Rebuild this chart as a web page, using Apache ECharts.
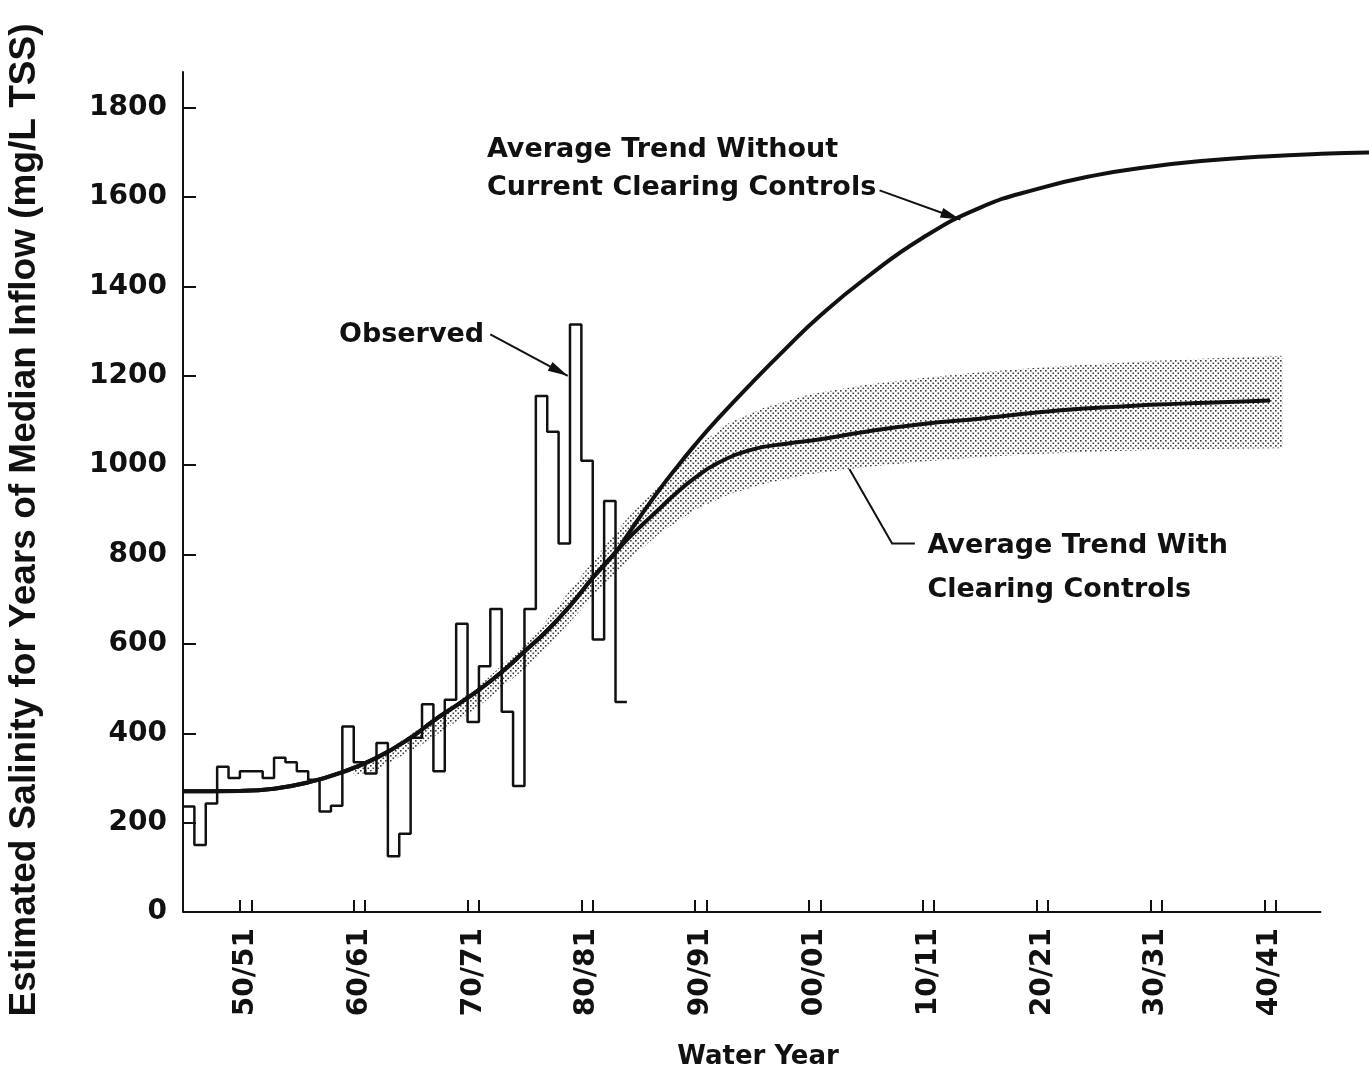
<!DOCTYPE html>
<html>
<head>
<meta charset="utf-8">
<script src="https://cdn.jsdelivr.net/npm/echarts@6/dist/echarts.min.js"></script>
<style>
  html, body { margin: 0; padding: 0; background: #ffffff; }
  #chart { width: 1369px; height: 1075px; }
</style>
</head>
<body>
<div id="chart"></div>
<script>
// Observed salinity for years of median inflow, one value per water year
const observedYears = [1945,1946,1947,1948,1949,1950,1951,1952,1953,1954,1955,1956,1957,1958,1959,
  1960,1961,1962,1963,1964,1965,1966,1967,1968,1969,1970,1971,1972,1973,1974,1975,1976,1977,1978,
  1979,1980,1981,1982,1983];
const observedValues = [236,150,243,325,300,315,315,300,345,335,315,296,225,238,415,
  335,310,378,125,175,390,465,315,475,645,425,550,678,448,282,678,1155,1075,825,
  1315,1010,610,920,470];
const observedEndYear = 1984;

// Shared part of both average trends
const trendYears = [1945,1950,1953,1956,1959,1962,1965,1967,1969,1971,1973,1975,1977,1979,1981,1983];
const trendValues = [270,271,276,290,313,345,390,428,462,497,537,583,630,685,748,805];

// Average trend without current clearing controls
const withoutYears = [1984,1985,1986,1987,1988,1990,1992,1995,1998,2001,2005,2010,2015,2020,2025,2030,2035,2040,2045,2049.2];
const withoutValues = [842,879,915,950,983,1046,1104,1185,1262,1335,1419,1509,1576,1618,1648,1668,1682,1691,1697,1700];

// Average trend with clearing controls
const withYears = [1984,1985,1986,1987,1988,1990,1992,1995,1998,2001,2005,2010,2015,2020,2025,2030,2035,2040.5];
const withValues = [833,858,882,906,930,972,1005,1035,1048,1058,1075,1092,1104,1118,1128,1135,1140,1145];

// Shaded range around the trend with clearing controls
const bandYears = [1960,1962,1966,1971,1976,1981,1984,1987,1990,1993,1996,2000,2005,2010,2015,2020,2025,2030,2035,2041.6];
const bandLow   = [305,318,375,460,565,705,785,850,900,935,958,980,996,1008,1018,1025,1030,1034,1036,1038];
const bandHigh  = [322,345,415,505,622,785,880,960,1040,1095,1128,1158,1180,1195,1208,1218,1226,1233,1239,1245];

// Axis ticks and labels
const yTicks = [0,200,400,600,800,1000,1200,1400,1600,1800];
const decadeStarts = [1950,1960,1970,1980,1990,2000,2010,2020,2030,2040];
const decadeLabels = ['50/51','60/61','70/71','80/81','90/91','00/01','10/11','20/21','30/31','40/41'];
const xAxisStart = 1945, xAxisEnd = 2045, xPlotEnd = 2049.2;

const FONT = 'DejaVu Sans';
const INK = '#111111';

const xTickValues = [];
decadeStarts.forEach(function (y) { xTickValues.push(y, y + 1); });
const xLabelValues = decadeStarts.map(function (y) { return y + 0.5; });
const labelByValue = {};
xLabelValues.forEach(function (v, i) { labelByValue[v] = decadeLabels[i]; });

function pairs(xs, ys) { return xs.map(function (x, i) { return [x, ys[i]]; }); }

const observedData = pairs(observedYears, observedValues);
observedData.push([observedEndYear, observedValues[observedValues.length - 1]]);
const withoutData = pairs(trendYears, trendValues).concat(pairs(withoutYears, withoutValues));
const withData = pairs(trendYears, trendValues).concat(pairs(withYears, withValues));

// Stipple tile for the shaded range
function stipple() {
  const c = document.createElement('canvas');
  c.width = 5; c.height = 5;
  const g = c.getContext('2d');
  g.fillStyle = '#ffffff';
  g.fillRect(0, 0, 5, 5);
  g.fillStyle = '#3a3a3a';
  g.fillRect(0, 0, 1.6, 1.6);
  g.fillRect(2.5, 2.5, 1.6, 1.6);
  return c;
}
const stipplePattern = { image: stipple(), repeat: 'repeat' };

const chart = echarts.init(document.getElementById('chart'), null, { renderer: 'canvas' });

const option = {
  backgroundColor: '#ffffff',
  animation: false,
  grid: { left: 183, right: 0, top: 72, bottom: 160 },
  xAxis: {
    type: 'value', min: xAxisStart, max: xPlotEnd,
    axisLine: { show: false },
    axisTick: { show: true, inside: true, length: 12, customValues: xTickValues, lineStyle: { color: INK, width: 2 } },
    axisLabel: {
      customValues: xLabelValues, rotate: 90, margin: 16,
      formatter: function (v) { return labelByValue[v] || ''; },
      fontFamily: FONT, fontWeight: 'bold', fontSize: 28, color: INK
    },
    splitLine: { show: false },
    name: 'Water Year', nameLocation: 'middle', nameGap: 132,
    nameTextStyle: { fontFamily: FONT, fontWeight: 'bold', fontSize: 26, color: INK, verticalAlign: 'top', padding: [0, 0, 0, -36] }
  },
  yAxis: {
    type: 'value', min: 0, max: 1880,
    axisLine: { show: true, lineStyle: { color: INK, width: 2 } },
    axisTick: { show: true, inside: true, length: 13, customValues: yTicks, lineStyle: { color: INK, width: 2 } },
    axisLabel: {
      customValues: yTicks, margin: 16, formatter: function (v) { return String(v); },
      fontFamily: FONT, fontWeight: 'bold', fontSize: 28, color: INK
    },
    splitLine: { show: false }
  },
  series: [
    {
      name: 'Range', type: 'custom', coordinateSystem: 'cartesian2d', silent: true, z: 1,
      data: [[bandYears[0], bandLow[0]]],
      renderItem: function (params, api) {
        const pts = [];
        for (let i = 0; i < bandYears.length; i++) pts.push(api.coord([bandYears[i], bandHigh[i]]));
        for (let i = bandYears.length - 1; i >= 0; i--) pts.push(api.coord([bandYears[i], bandLow[i]]));
        return { type: 'polygon', shape: { points: pts }, style: { fill: stipplePattern, stroke: null } };
      }
    },
    {
      name: 'Baseline', type: 'line', data: [[xAxisStart, 0], [xAxisEnd, 0]],
      symbol: 'none', silent: true, z: 2, lineStyle: { color: INK, width: 2 }
    },
    {
      name: 'Average Trend Without Current Clearing Controls', type: 'line', data: withoutData,
      smooth: 0.5, symbol: 'none', z: 3,
      lineStyle: { color: INK, width: 4 }
    },
    {
      name: 'Average Trend With Clearing Controls', type: 'line', data: withData,
      smooth: 0.5, symbol: 'none', z: 3,
      lineStyle: { color: INK, width: 4 }
    },
    {
      name: 'Observed', type: 'line', data: observedData, step: 'end',
      symbol: 'none', z: 4,
      lineStyle: { color: INK, width: 2.5 }
    }
  ]
};
chart.setOption(option);

// Callouts, anchored in data units
const callouts = [
  { text: 'Observed', at: [1958.7, 1291] },
  { text: 'Average Trend Without\nCurrent Clearing Controls', at: [1971.7, 1664], lineHeight: 38 },
  { text: 'Average Trend With\nClearing Controls', at: [2010.4, 769], lineHeight: 44 }
];
const arrows = [
  [[1972.0, 1293], [1978.8, 1200]],
  [[2006.2, 1615], [2013.3, 1550]],
  [[2009.3, 825], [2007.3, 825], [2002.1, 1056]]
];

function px(p) { return chart.convertToPixel({ gridIndex: 0 }, p); }

const graphics = [];
graphics.push({
  type: 'text', x: 25, y: 520, rotation: Math.PI / 2,
  style: {
    text: 'Estimated Salinity for Years of Median Inflow (mg/L TSS)',
    font: 'bold 37px "Liberation Sans"', fill: INK, align: 'center', verticalAlign: 'middle'
  }
});
callouts.forEach(function (c) {
  const p = px(c.at);
  graphics.push({
    type: 'text', x: p[0], y: p[1],
    style: {
      text: c.text, font: 'bold 27px "' + FONT + '"', fill: INK,
      align: 'left', verticalAlign: 'middle', lineHeight: c.lineHeight || 32
    }
  });
});
arrows.forEach(function (a) {
  const pts = a.map(px);
  graphics.push({ type: 'polyline', shape: { points: pts }, style: { stroke: INK, lineWidth: 2, fill: null } });
  const tip = pts[pts.length - 1], prev = pts[pts.length - 2];
  const ang = Math.atan2(tip[1] - prev[1], tip[0] - prev[0]);
  const L = 20, W = 5;
  const bx = tip[0] - L * Math.cos(ang), by = tip[1] - L * Math.sin(ang);
  graphics.push({
    type: 'polygon',
    shape: { points: [tip, [bx + W * Math.sin(ang), by - W * Math.cos(ang)], [bx - W * Math.sin(ang), by + W * Math.cos(ang)]] },
    style: { fill: INK, stroke: null }
  });
});
chart.setOption({ graphic: graphics });
</script>
</body>
</html>
